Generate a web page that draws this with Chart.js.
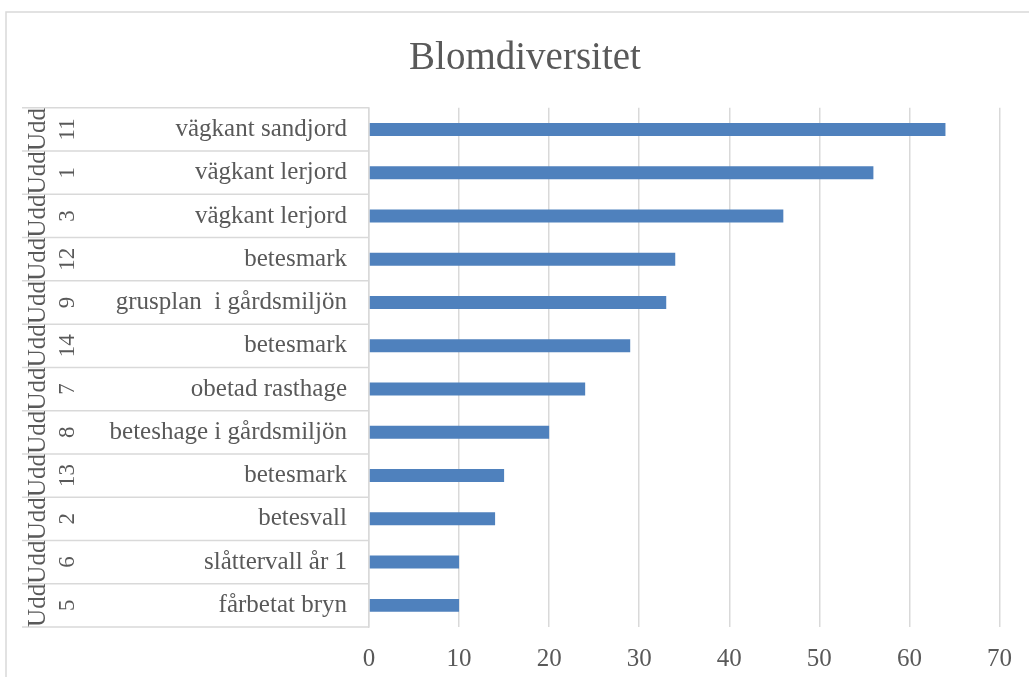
<!DOCTYPE html>
<html>
<head>
<meta charset="utf-8">
<script src="https://cdn.jsdelivr.net/npm/chart.js@4.4.1/dist/chart.umd.min.js"></script>
<style>
  html, body { margin: 0; padding: 0; background: #ffffff; }
  #wrap { width: 1029px; height: 677px; }
</style>
</head>
<body>
<div id="wrap"><canvas id="c" width="1029" height="677"></canvas></div>
<script>
// ---- data ----
const categories = [
  'vägkant sandjord', 'vägkant lerjord', 'vägkant lerjord', 'betesmark',
  'grusplan  i gårdsmiljön', 'betesmark', 'obetad rasthage', 'beteshage i gårdsmiljön',
  'betesmark', 'betesvall', 'slåttervall år 1', 'fårbetat bryn'
];
const siteNumbers = ['11', '1', '3', '12', '9', '14', '7', '8', '13', '2', '6', '5'];
const groupLabels = ['Udd', 'Udd', 'Udd', 'Udd', 'Udd', 'Udd', 'Udd', 'Udd', 'Udd', 'Udd', 'Udd', 'Udd'];
const values = [64, 56, 46, 34, 33, 29, 24, 20, 15, 14, 10, 10];
const xTickMin = 0;
const xTickMax = 70;
const xTickStep = 10;
const chartTitle = 'Blomdiversitet';

// ---- style ----
const FONT = "'Liberation Serif', 'Times New Roman', serif";
const TEXT = '#595959';
const GRID = '#d9d9d9';

const decorations = {
  id: 'decorations',
  beforeDraw(chart) {
    const ctx = chart.ctx;
    ctx.save();
    ctx.fillStyle = '#ffffff';
    ctx.fillRect(0, 0, chart.width, chart.height);
    // outer chart frame
    ctx.strokeStyle = GRID;
    ctx.lineWidth = 1.5;
    ctx.beginPath();
    ctx.moveTo(6, chart.height);
    ctx.lineTo(6, 12);
    ctx.lineTo(chart.width, 12);
    ctx.stroke();
    ctx.restore();
  },
  afterDraw(chart) {
    const ctx = chart.ctx;
    const y = chart.scales.y;
    const area = chart.chartArea;
    const n = categories.length;
    ctx.save();
    // table lines in the label region
    ctx.strokeStyle = GRID;
    ctx.lineWidth = 1.5;
    const bounds = [area.top];
    for (let i = 0; i < n - 1; i++) {
      bounds.push((y.getPixelForValue(i) + y.getPixelForValue(i + 1)) / 2);
    }
    bounds.push(area.bottom);
    ctx.beginPath();
    bounds.forEach(b => {
      ctx.moveTo(22, b);
      ctx.lineTo(area.left, b);
    });
    ctx.stroke();
    // rotated multi-level labels
    ctx.fillStyle = TEXT;
    ctx.textAlign = 'center';
    ctx.textBaseline = 'alphabetic';
    for (let i = 0; i < n; i++) {
      const py = y.getPixelForValue(i);
      ctx.save();
      ctx.translate(74, py);
      ctx.rotate(-Math.PI / 2);
      ctx.font = '23px ' + FONT;
      ctx.fillText(siteNumbers[i], 0, 0);
      ctx.restore();
      ctx.save();
      ctx.translate(45, py);
      ctx.rotate(-Math.PI / 2);
      ctx.font = '25px ' + FONT;
      ctx.fillText(groupLabels[i], 0, 0);
      ctx.restore();
    }
    ctx.restore();
  }
};

new Chart(document.getElementById('c'), {
  type: 'bar',
  data: {
    labels: categories,
    datasets: [{
      data: values,
      backgroundColor: '#4f81bd',
      borderWidth: 0,
      categoryPercentage: 1,
      barPercentage: 0.3
    }]
  },
  options: {
    indexAxis: 'y',
    responsive: false,
    animation: false,
    devicePixelRatio: 1,
    layout: { padding: { left: 50, right: 29, top: 0, bottom: 0 } },
    plugins: {
      legend: { display: false },
      tooltip: { enabled: false },
      title: {
        display: true,
        text: chartTitle,
        color: TEXT,
        font: { family: FONT, size: 39, weight: 'normal', lineHeight: 1.2 },
        padding: { top: 35, bottom: 26 }
      }
    },
    scales: {
      x: {
        type: 'linear',
        min: xTickMin,
        max: xTickMax,
        ticks: {
          stepSize: xTickStep,
          color: TEXT,
          padding: 17,
          font: { family: FONT, size: 25, lineHeight: 1.2 }
        },
        grid: { color: GRID, lineWidth: 1.5, drawTicks: false },
        border: { display: false },
        afterFit(scale) { scale.height = 50; }
      },
      y: {
        type: 'category',
        ticks: {
          autoSkip: false,
          color: TEXT,
          padding: 22,
          font: { family: FONT, size: 25, lineHeight: 1.2 }
        },
        grid: { display: false, drawTicks: false },
        border: { display: true, color: GRID, width: 1.5 },
        afterFit(scale) { scale.width = 319; }
      }
    }
  },
  plugins: [decorations]
});
</script>
</body>
</html>
